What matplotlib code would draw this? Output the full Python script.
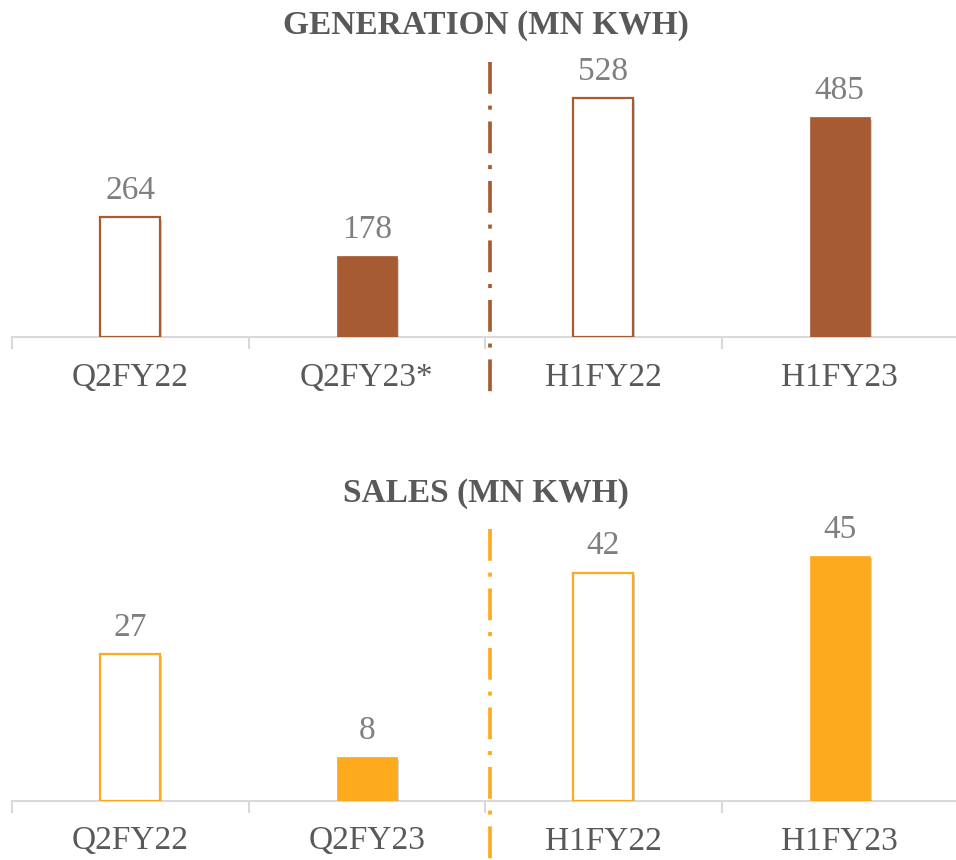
import matplotlib
matplotlib.use("Agg")
import matplotlib.pyplot as plt
import matplotlib.patheffects as pe
from matplotlib.transforms import blended_transform_factory

gen_categories = ["Q2FY22", "Q2FY23*", "H1FY22", "H1FY23"]
gen_values = [264, 178, 528, 485]
sales_categories = ["Q2FY22", "Q2FY23", "H1FY22", "H1FY23"]
sales_values = [27, 8, 42, 45]
hollow = [True, False, True, False]

W, H = 956, 860
fig = plt.figure(figsize=(W / 100, H / 100), dpi=100)
FONT = "Liberation Serif"
TXT = "#595959"
VAL = "#7F7F7F"
GRID = "#D9D9D9"


def px_to_frac_y(y):
    return 1 - y / H


def panel(rect, cats, vals, color, ymax, title, title_base_y, line_top_px, base_px, top_px):
    ax = fig.add_axes(rect)
    x = list(range(len(cats)))
    shadow = [pe.SimplePatchShadow(offset=(1.5, -1.5), shadow_rgbFace="#000000", alpha=0.18), pe.Normal()]
    for xi, v, h in zip(x, vals, hollow):
        if h:
            b = ax.bar(xi, v, width=0.254, color="white", edgecolor=color, linewidth=1.6, zorder=3)
        else:
            b = ax.bar(xi, v, width=0.254, color=color, edgecolor=color, linewidth=0.5, zorder=3)
        for p in b.patches:
            p.set_path_effects(shadow)
        ax.annotate(f"{v}", (xi, v), xytext=(0, 13), textcoords="offset points",
                    ha="center", va="baseline", fontsize=24, family=FONT, color=VAL)
    ax.set_xlim(-0.5, 3.5)
    ax.set_ylim(0, ymax)
    for s in ["top", "left", "right"]:
        ax.spines[s].set_visible(False)
    ax.spines["bottom"].set_color(GRID)
    ax.spines["bottom"].set_linewidth(1.5)
    ax.set_yticks([])
    ax.set_xticks(x)
    ax.set_xticklabels(cats, fontsize=24, family=FONT, color=TXT)
    ax.tick_params(axis="x", which="major", length=0, pad=18)
    ax.set_xticks([-0.5, 0.5, 1.5, 2.5, 3.5], minor=True)
    ax.tick_params(axis="x", which="minor", length=8.6, width=1.5, color=GRID)
    # divider
    trans = blended_transform_factory(ax.transData, ax.transAxes)
    height_px = base_px - top_px
    y_top = (base_px - line_top_px) / height_px
    y_bot = (base_px - (base_px + 58)) / height_px
    ax.plot([1.52, 1.52], [y_top, y_bot], transform=trans, clip_on=False,
            color=color, linewidth=2.66, linestyle=(0, (8.6, 3.2, 1.1, 3.2)),
            solid_capstyle="butt", dash_capstyle="butt", zorder=4)
    fig.text(486 / W, px_to_frac_y(title_base_y), title, ha="center", va="baseline",
             fontsize=24, family=FONT, fontweight="bold", color=TXT)
    return ax


BROWN = "#A65B32"
ORANGE = "#FDAA1F"
left = 12 / W
width = 946 / W

# top panel: baseline 337, top 60
top_base, top_top = 337, 60
panel([left, px_to_frac_y(top_base), width, (top_base - top_top) / H],
      gen_categories, gen_values, BROWN, (top_base - top_top) / 0.4527,
      "GENERATION (MN KWH)", 34, 62, top_base, top_top)

bot_base, bot_top = 801, 520
panel([left, px_to_frac_y(bot_base), width, (bot_base - bot_top) / H],
      sales_categories, sales_values, ORANGE, (bot_base - bot_top) / 5.44,
      "SALES (MN KWH)", 502, 529, bot_base, bot_top)

fig.savefig("out.png", dpi=100, facecolor="white")
